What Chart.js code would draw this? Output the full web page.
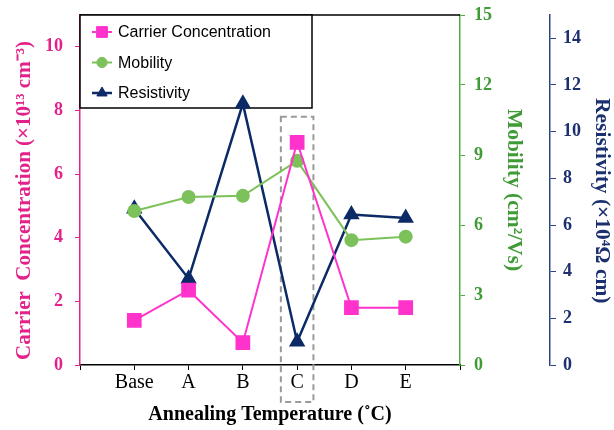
<!DOCTYPE html>
<html>
<head>
<meta charset="utf-8">
<script src="https://cdn.jsdelivr.net/npm/chart.js@4"></script>
<style>
  html, body { margin: 0; padding: 0; background: #fff; }
  canvas { display: block; }
</style>
</head>
<body>
<canvas id="annealChart" width="614" height="430"></canvas>
<script>
// values
var categories = ['Base', 'A', 'B', 'C', 'D', 'E'];
var carrierConc = [1.4, 2.35, 0.7, 7.0, 1.8, 1.8];     // x10^13 cm^-3
var mobility = [6.6, 7.2, 7.25, 8.75, 5.35, 5.5];       // cm^2/Vs
var resistivity = [6.7, 3.7, 11.2, 1.0, 6.45, 6.3];     // x10^4 ohm cm
var carrierTicks = [0, 2, 4, 6, 8, 10];
var mobilityTicks = [0, 3, 6, 9, 12, 15];
var resistivityTicks = [0, 2, 4, 6, 8, 10, 12, 14];
var highlightCategory = 'C';

var PINK = '#ff33cc';
var PINK_AXIS = '#e3218a';
var GREEN = '#7cc15a';
var GREEN_AXIS = '#3f9b35';
var NAVY = '#0b2a66';
var NAVY_AXIS = '#1c2f6e';
var SERIF = "'Liberation Serif', 'Times New Roman', serif";

// empty slot on each side so the categories sit off the axes
var labels = [''].concat(categories, ['']);
function pad(arr) { return [null].concat(arr, [null]); }

function fixedTicks(list) {
    return function (scale) {
        scale.ticks = list.map(function (v) { return { value: v }; });
    };
}

// pin the axis width and stop tick labels from pushing the plot area down
function fixWidth(w) {
    return function (scale) {
        scale.width = w;
        scale.paddingTop = 0;
        scale.paddingBottom = 0;
    };
}

var frameAndLegend = {
    id: 'frameAndLegend',
    beforeDatasetsDraw: function (chart) {
        var ctx = chart.ctx;
        var area = chart.chartArea;
        var x = chart.scales.x;
        var yc = chart.scales.yCarrier;

        // top frame line
        ctx.save();
        ctx.strokeStyle = '#000';
        ctx.lineWidth = 1.5;
        ctx.beginPath();
        ctx.moveTo(area.left, area.top);
        ctx.lineTo(area.right, area.top);
        ctx.stroke();

        // dashed box around the highlighted category
        var cx = x.getPixelForValue(labels.indexOf(highlightCategory));
        var half = x.width / (labels.length - 1) * 0.3;
        var boxTop = yc.getPixelForValue(7.8);
        ctx.strokeStyle = '#9a9a9a';
        ctx.lineWidth = 2;
        ctx.setLineDash([6, 4]);
        ctx.strokeRect(cx - half, boxTop, half * 2, area.bottom + 37 - boxTop);
        ctx.setLineDash([]);

        // legend box in the top-left corner
        var lx = area.left, ly = area.top, lw = 232, lh = 93;
        ctx.fillStyle = '#fff';
        ctx.fillRect(lx, ly, lw, lh);
        ctx.strokeStyle = '#000';
        ctx.lineWidth = 1.5;
        ctx.strokeRect(lx, ly, lw, lh);

        ctx.font = "16px 'Liberation Sans', Arial, sans-serif";
        ctx.textBaseline = 'middle';
        chart.data.datasets.forEach(function (ds, i) {
            var rowY = ly + 17 + i * 30.5;
            ctx.strokeStyle = ds.borderColor;
            ctx.lineWidth = ds.borderWidth;
            ctx.beginPath();
            ctx.moveTo(lx + 12, rowY);
            ctx.lineTo(lx + 32, rowY);
            ctx.stroke();
            ctx.fillStyle = ds.pointBackgroundColor;
            ctx.strokeStyle = ds.pointBackgroundColor;
            ctx.lineWidth = 1;
            Chart.helpers.drawPoint(ctx, {
                pointStyle: ds.pointStyle,
                radius: ds.pointRadius * 0.85,
                borderWidth: 1
            }, lx + 22, rowY);
            ctx.fillStyle = '#000';
            ctx.fillText(ds.label, lx + 38, rowY + 1);
        });
        ctx.restore();
    }
};

var titleFont = { family: SERIF, size: 21.5, weight: 'bold' };
var tickFont = { family: SERIF, size: 18, weight: 'bold' };

new Chart(document.getElementById('annealChart'), {
    type: 'line',
    data: {
        labels: labels,
        datasets: [{
            label: 'Carrier Concentration',
            data: pad(carrierConc),
            yAxisID: 'yCarrier',
            borderColor: PINK,
            borderWidth: 2,
            pointStyle: 'rect',
            pointRadius: 9,
            pointBackgroundColor: PINK,
            pointBorderColor: PINK
        }, {
            label: 'Mobility',
            data: pad(mobility),
            yAxisID: 'yMobility',
            borderColor: GREEN,
            borderWidth: 2,
            pointStyle: 'circle',
            pointRadius: 6,
            pointBackgroundColor: GREEN,
            pointBorderColor: GREEN
        }, {
            label: 'Resistivity',
            data: pad(resistivity),
            yAxisID: 'yResist',
            borderColor: NAVY,
            borderWidth: 2.5,
            pointStyle: 'triangle',
            pointRadius: 7,
            pointBackgroundColor: NAVY,
            pointBorderColor: NAVY
        }]
    },
    options: {
        responsive: false,
        animation: false,
        layout: { padding: { top: 15, left: 0, right: 0, bottom: 0 } },
        plugins: { legend: { display: false }, tooltip: { enabled: false } },
        scales: {
            x: {
                offset: false,
                border: { color: '#000', width: 1.5 },
                grid: { drawOnChartArea: false, color: '#000', tickLength: 5 },
                ticks: { color: '#000', font: { family: SERIF, size: 20 }, padding: 1, autoSkip: false, maxRotation: 0 },
                title: {
                    display: true,
                    text: 'Annealing Temperature (˚C)',
                    color: '#000',
                    font: { family: SERIF, size: 20, weight: 'bold' },
                    padding: { top: 0, bottom: 3 }
                },
                afterFit: function (s) { s.height = 65; }
            },
            yCarrier: {
                position: 'left',
                min: 0,
                max: 11,
                afterBuildTicks: fixedTicks(carrierTicks),
                border: { color: PINK_AXIS, width: 1.5 },
                grid: { drawOnChartArea: false, color: PINK_AXIS, tickLength: 5 },
                ticks: { color: PINK_AXIS, font: tickFont, padding: 12 },
                title: {
                    display: true,
                    text: 'Carrier  Concentration (×10¹³ cm⁻³)    ',
                    color: PINK_AXIS,
                    font: { family: SERIF, size: 21, weight: 'bold' },
                    padding: 12
                },
                afterFit: fixWidth(80)
            },
            yMobility: {
                position: 'right',
                weight: 0,
                min: 0,
                max: 15,
                afterBuildTicks: fixedTicks(mobilityTicks),
                border: { color: '#4caf3c', width: 1.5 },
                grid: { drawOnChartArea: false, color: '#4caf3c', tickLength: 5 },
                ticks: { color: GREEN_AXIS, font: tickFont, padding: 9 },
                title: {
                    display: true,
                    text: 'Mobility (cm²/Vs)',
                    color: GREEN_AXIS,
                    font: titleFont,
                    padding: 24
                },
                afterFit: fixWidth(90)
            },
            yResist: {
                position: 'right',
                weight: 1,
                min: 0,
                max: 15,
                afterBuildTicks: fixedTicks(resistivityTicks),
                border: { color: '#2d4485', width: 1.5 },
                grid: { drawOnChartArea: false, color: '#2d4485', tickLength: 6 },
                ticks: { color: NAVY_AXIS, font: tickFont, padding: 7 },
                title: {
                    display: true,
                    text: '    Resistivity (×10⁴Ω cm)',
                    color: NAVY_AXIS,
                    font: titleFont,
                    padding: 0
                },
                afterFit: fixWidth(64)
            }
        }
    },
    plugins: [frameAndLegend]
});
</script>
</body>
</html>
